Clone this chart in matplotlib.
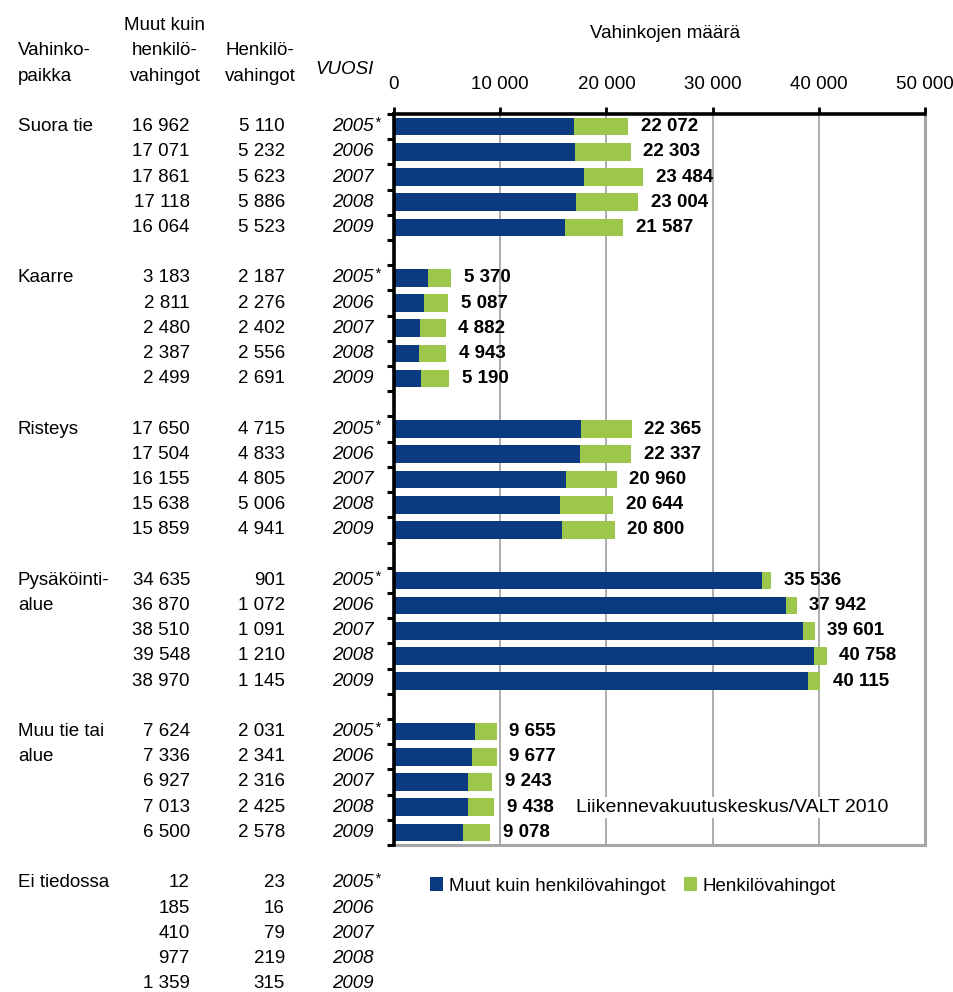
import matplotlib
matplotlib.use("Agg")
import matplotlib.pyplot as plt
import matplotlib.transforms as mtransforms
from matplotlib.patches import Patch

plt.rcParams['font.family'] = ['Liberation Sans', 'DejaVu Sans']

# Damage counts by location (rows), 2005*-2009
places = ["Suora tie", "Kaarre", "Risteys", "Pysäköinti-\nalue", "Muu tie tai\nalue", "Ei tiedossa"]
years = ["2005", "2006", "2007", "2008", "2009"]
other_damage = [
    [16962, 17071, 17861, 17118, 16064],
    [3183, 2811, 2480, 2387, 2499],
    [17650, 17504, 16155, 15638, 15859],
    [34635, 36870, 38510, 39548, 38970],
    [7624, 7336, 6927, 7013, 6500],
    [12, 185, 410, 977, 1359],
]
personal_damage = [
    [5110, 5232, 5623, 5886, 5523],
    [2187, 2276, 2402, 2556, 2691],
    [4715, 4833, 4805, 5006, 4941],
    [901, 1072, 1091, 1210, 1145],
    [2031, 2341, 2316, 2425, 2578],
    [23, 16, 79, 219, 315],
]
n_plotted = 5  # "Ei tiedossa" appears in the table only
x_ticks = [0, 10000, 20000, 30000, 40000, 50000]

navy = "#0b3a80"
green = "#9cc74a"
grid_gray = "#a6a6a6"

def fmt(v):
    return f"{v:,}".replace(",", " ")

fig = plt.figure(figsize=(9.54, 9.92), dpi=100)
W, H = 954, 992
ax_left, ax_right, ax_top, ax_bottom = 394, 925, 114, 845
ax = fig.add_axes([ax_left / W, 1 - ax_bottom / H, (ax_right - ax_left) / W, (ax_bottom - ax_top) / H])

fs = 13.5
slot = 6
for g in range(n_plotted):
    for i in range(5):
        y = g * slot + i
        a = other_damage[g][i]
        b = personal_damage[g][i]
        ax.barh(y, a, height=0.7, color=navy, zorder=3)
        ax.barh(y, b, left=a, height=0.7, color=green, zorder=3)
        ax.annotate(fmt(a + b), xy=(a + b, y), xytext=(9, 0), textcoords="offset points",
                    ha="left", va="center", fontsize=fs, fontweight="bold", zorder=4)

n_slots = (n_plotted - 1) * slot + 5
ax.set_ylim(n_slots - 0.5, -0.5)
ax.set_xlim(0, 50000)

# top axis ticks
ax.xaxis.tick_top()
ax.set_xticks(x_ticks)
ax.set_xticklabels([fmt(v) for v in x_ticks], fontsize=fs)
ax.tick_params(axis="x", direction="out", length=5, width=2, color="black", pad=10)
ax.set_yticks([k - 0.5 for k in range(n_slots + 1)])
ax.set_yticklabels([])
ax.tick_params(axis="y", direction="out", length=5, width=2.2, color="black")

ax.grid(axis="x", color=grid_gray, linewidth=1.3, zorder=0)
for s in ["top", "left"]:
    ax.spines[s].set_color("black")
    ax.spines[s].set_linewidth(2.6)
    ax.spines[s].set_zorder(5)
for s in ["right", "bottom"]:
    ax.spines[s].set_color(grid_gray)
    ax.spines[s].set_linewidth(2.2)

fig.text(665 / W, 1 - 33 / H, "Vahinkojen määrä", ha="center", va="center", fontsize=fs)

# Table on the left: x in figure fraction, y in row units
tr = mtransforms.blended_transform_factory(fig.transFigure, ax.transData)
x_place, x_other, x_pers, x_year = 18 / W, 190 / W, 285 / W, 374 / W

ax.text(x_place, -3, "Vahinko-", transform=tr, ha="left", va="center", fontsize=fs, clip_on=False)
ax.text(x_place, -2, "paikka", transform=tr, ha="left", va="center", fontsize=fs, clip_on=False)
for k, line in enumerate(["Muut kuin", "henkilö-", "vahingot"]):
    ax.text(165 / W, -4 + k, line, transform=tr, ha="center", va="center", fontsize=fs, clip_on=False)
for k, line in enumerate(["Henkilö-", "vahingot"]):
    ax.text(260 / W, -3 + k, line, transform=tr, ha="center", va="center", fontsize=fs, clip_on=False)
ax.text(x_year, -2.25, "VUOSI", transform=tr, ha="right", va="center", fontsize=fs,
        style="italic", clip_on=False)

for g, place in enumerate(places):
    base = g * slot
    for k, line in enumerate(place.split("\n")):
        ax.text(x_place, base + k, line, transform=tr, ha="left", va="center", fontsize=fs, clip_on=False)
    for i in range(5):
        y = base + i
        ax.text(x_other, y, fmt(other_damage[g][i]), transform=tr, ha="right", va="center",
                fontsize=fs, clip_on=False)
        ax.text(x_pers, y, fmt(personal_damage[g][i]), transform=tr, ha="right", va="center",
                fontsize=fs, clip_on=False)
        ax.text(x_year, y, years[i], transform=tr, ha="right", va="center", fontsize=fs,
                style="italic", clip_on=False)
        if i == 0:
            ax.text(x_year, y - 0.15, "*", transform=tr, ha="left", va="center", fontsize=fs - 3,
                    style="italic", clip_on=False)

# Source note
ax.text(576 / W, (n_plotted - 1) * slot + 3, "Liikennevakuutuskeskus/VALT 2010", transform=tr,
        ha="left", va="center", fontsize=14, zorder=6, clip_on=False,
        bbox=dict(facecolor="white", edgecolor="none", pad=1.5))

handles = [Patch(facecolor=navy, edgecolor="none", label="Muut kuin henkilövahingot"),
           Patch(facecolor=green, edgecolor="none", label="Henkilövahingot")]
fig.legend(handles=handles, loc="center left", bbox_to_anchor=(430 / W, 1 - 886 / H), ncol=2,
           frameon=False, fontsize=fs, handlelength=0.7, handleheight=0.7,
           handletextpad=0.3, columnspacing=1.0, borderaxespad=0, borderpad=0)

fig.savefig("out.png", dpi=100, facecolor="white")
